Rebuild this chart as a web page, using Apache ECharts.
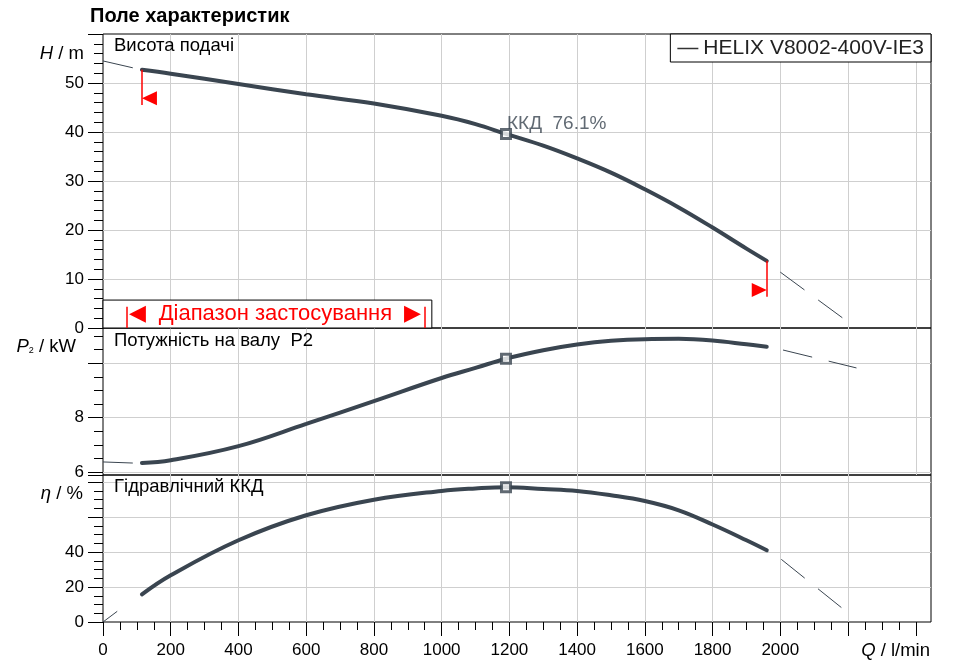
<!DOCTYPE html>
<html>
<head>
<meta charset="utf-8">
<script src="https://cdn.jsdelivr.net/npm/echarts@6/dist/echarts.min.js"></script>
<style>
  html, body { margin: 0; padding: 0; background: #fff; }
  #main { width: 969px; height: 665px; }
</style>
</head>
<body>
<div id="main"></div>
<script>
// flow points of the operating curve (l/min)
var qMain = [115, 200, 400, 600, 800, 1000, 1100, 1190, 1300, 1400, 1500, 1600, 1700, 1800, 1900, 1960];
var headMain = [52.7, 51.9, 49.8, 47.7, 45.8, 43.3, 41.6, 39.6, 37.2, 34.6, 31.7, 28.3, 24.6, 20.5, 16.2, 13.7];
var powerMain = [6.33, 6.43, 6.95, 7.77, 8.61, 9.46, 9.83, 10.17, 10.48, 10.69, 10.83, 10.89, 10.9, 10.84, 10.7, 10.61];
var effMain = [15.8, 26.7, 46.7, 61, 69.9, 74.9, 76.3, 77.0, 76.0, 74.9, 72.4, 69.1, 63.8, 55.7, 46.7, 41];

// thin pieces outside the allowed range
var qStartHead = [0, 88], headStart = [54.5, 53.1];
var qStartPower = [0, 88], powerStart = [6.37, 6.33];
var qStartEff = [0, 42], effStart = [0, 6.1];
var qEndHead = [2000, 2187], headEnd = [11.4, 1.9];
var qEndPower = [2008, 2225], powerEnd = [10.49, 9.83];
var qEndEff = [2003, 2182], effEnd = [35.8, 8.0];

// best efficiency point
var bepQ = 1190, bepHead = 39.6, bepPower = 10.17, bepEff = 77.0, bepText = '76.1';

// application range
var rangeQ = [70, 951];
var rangeBox = [971, 5.7];
var limitQ = [115, 1960];

var qTicks = [0, 200, 400, 600, 800, 1000, 1200, 1400, 1600, 1800, 2000, 2200, 2400];
var qMinorTicks = [];
for (var t = 50; t <= 2400; t += 50) { if (t % 200) qMinorTicks.push(t); }

var C = '#3a4550';
var FONT = 'Liberation Sans';
var GRIDC = '#cfcfcf';

function pairs(xs, ys) {
    return xs.map(function (x, i) { return [x, ys[i]]; });
}

var myChart = echarts.init(document.getElementById('main'));

var xPlain = function (grid, extra) {
    return Object.assign({
        type: 'value', gridIndex: grid, min: 0, max: 2445, interval: 200,
        axisLine: { show: false }, axisTick: { show: false }, axisLabel: { show: false },
        splitLine: { show: true, showMinLine: false, showMaxLine: false, lineStyle: { color: GRIDC, width: 1 } }
    }, extra || {});
};
var yMinor = function (grid, min, max, step) {
    return {
        type: 'value', gridIndex: grid, position: 'left', min: min, max: max, interval: step,
        axisLine: { show: false }, axisLabel: { show: false }, splitLine: { show: false },
        axisTick: { show: true, length: 9, lineStyle: { color: '#000', width: 1 } }
    };
};
var yMain = function (grid, min, max, step, shown, name, gap, padRight, minLine) {
    return {
        type: 'value', gridIndex: grid, position: 'left', min: min, max: max, interval: step,
        axisLine: { show: false },
        axisTick: { show: true, length: 15, lineStyle: { color: '#000', width: 1 } },
        axisLabel: {
            show: true, margin: 19, fontSize: 17, color: '#000', fontFamily: FONT,
            formatter: function (v) { return shown.indexOf(v) >= 0 ? String(v) : ''; }
        },
        splitLine: { show: true, showMinLine: minLine, showMaxLine: false, lineStyle: { color: GRIDC, width: 1 } },
        name: name, nameLocation: 'end', nameGap: gap, nameMoveOverlap: false,
        nameTextStyle: {
            fontSize: 18.5, color: '#000', fontFamily: FONT, align: 'right', verticalAlign: 'middle',
            padding: [0, padRight, 0, 0],
            rich: { i: { fontStyle: 'italic', fontSize: 18.5, fontFamily: FONT, color: '#000' },
                    s: { fontSize: 9, fontFamily: FONT, color: '#000', padding: [8, 0, 0, 0] } }
        }
    };
};

var thick = { width: 4, color: C, cap: 'round' };
var thin = { width: 1, color: C };
var dash = { width: 1, color: C, type: [30, 17] };
var squareStyle = { color: '#fff', borderColor: C, borderWidth: 3 };
var panelText = { fontSize: 18.5, fontWeight: 'normal', color: '#000', fontFamily: FONT };

option = {
    animation: false,
    textStyle: { fontFamily: FONT },
    title: [
        { text: 'Поле характеристик', left: 90, top: 6, padding: 0,
          textStyle: { fontSize: 20, fontWeight: 'bold', color: '#000', fontFamily: FONT } },
        { text: 'Висота подачі', left: 114, top: 36, padding: 0, textStyle: panelText },
        { text: 'Потужність на валу  P2', left: 114, top: 331, padding: 0, textStyle: panelText },
        { text: 'Гідравлічний ККД', left: 114, top: 477, padding: 0, textStyle: panelText }
    ],
    legend: {
        right: 38, top: 34, padding: [4, 7, 3, 7],
        borderColor: '#000', borderWidth: 1, backgroundColor: '#fff',
        icon: 'rect', itemWidth: 21, itemHeight: 1.5,
        itemStyle: { color: '#333' },
        textStyle: { fontSize: 21, color: '#222', fontFamily: FONT },
        data: ['HELIX V8002-400V-IE3'], selectedMode: false
    },
    grid: [
        { left: 103, width: 828, top: 34, height: 294, show: true, borderColor: '#000', borderWidth: 1,
          backgroundColor: 'transparent', containLabel: false, outerBoundsMode: 'none' },
        { left: 103, width: 828, top: 328, height: 147, show: true, borderColor: '#000', borderWidth: 1,
          backgroundColor: 'transparent', containLabel: false, outerBoundsMode: 'none' },
        { left: 103, width: 828, top: 328, height: 144, show: false, containLabel: false, outerBoundsMode: 'none' },
        { left: 103, width: 828, top: 475, height: 147, show: true, borderColor: '#000', borderWidth: 1,
          backgroundColor: 'transparent', containLabel: false, outerBoundsMode: 'none' }
    ],
    xAxis: [
        xPlain(0),
        xPlain(1),
        xPlain(2, { show: false }),
        xPlain(3, {
            axisTick: { show: true, length: 14, lineStyle: { color: '#000', width: 1 }, customValues: qTicks },
            axisLabel: {
                show: true, margin: 20, fontSize: 17, color: '#000', fontFamily: FONT,
                formatter: function (v) { return (v <= 2000 && v % 200 === 0) ? String(v) : ''; }
            },
            name: '{i|Q} / l/min', nameLocation: 'end', nameGap: 0, nameMoveOverlap: false,
            nameTextStyle: {
                fontSize: 18.5, color: '#000', fontFamily: FONT, align: 'right', verticalAlign: 'top',
                padding: [19, 1, 0, 0],
                rich: { i: { fontStyle: 'italic', fontSize: 18.5, fontFamily: FONT, color: '#000' } }
            }
        }),
        {
            type: 'value', gridIndex: 3, position: 'bottom', min: 0, max: 2445, interval: 50,
            axisLine: { show: false }, axisLabel: { show: false }, splitLine: { show: false },
            axisTick: { show: true, length: 8, lineStyle: { color: '#000', width: 1 }, customValues: qMinorTicks }
        }
    ],
    yAxis: [
        yMain(0, 0, 60, 10, [0, 10, 20, 30, 40, 50], '{i|H} / m', -20, 19, false),
        yMinor(0, 0, 60, 2),
        { type: 'value', gridIndex: 1, min: 0, max: 1, show: false },
        yMain(2, 6, 11.3, 2, [6, 8], '{i|P}{s|2} / kW', -19, 27, true),
        yMinor(2, 6, 11.3, 0.5),
        yMain(3, 0, 84, 20, [0, 20, 40], '{i|η} / %', -19, 20, false),
        yMinor(3, 0, 84, 5)
    ],
    series: [
        {
            name: 'HELIX V8002-400V-IE3', type: 'line', xAxisIndex: 0, yAxisIndex: 0,
            smooth: 0.4, symbol: 'none', lineStyle: thick, itemStyle: { color: C },
            data: pairs(qMain, headMain), z: 3,
            markArea: {
                silent: true,
                itemStyle: { color: '#fff', borderColor: '#000', borderWidth: 1 },
                label: { show: true, position: 'inside', offset: [8, 0], color: '#ff0000',
                         fontSize: 22, fontFamily: FONT,
                         formatter: '◀  Діапазон застосування  ▶' },
                data: [[{ xAxis: 0, yAxis: 0 }, { xAxis: rangeBox[0], yAxis: rangeBox[1] }]]
            },
            markLine: {
                silent: true, symbol: ['none', 'none'], label: { show: false },
                lineStyle: { color: '#ff0000', width: 1.5, type: 'solid' },
                data: [
                    [{ coord: [rangeQ[0], 0] }, { coord: [rangeQ[0], 4.35] }],
                    [{ coord: [rangeQ[1], 0] }, { coord: [rangeQ[1], 4.35] }],
                    [{ coord: [limitQ[0], headMain[0]] }, { coord: [limitQ[0], 45.5] }],
                    [{ coord: [limitQ[1], headMain[headMain.length - 1]] }, { coord: [limitQ[1], 6.4] }]
                ]
            },
            markPoint: {
                silent: true, label: { show: false }, itemStyle: { color: '#ff0000' },
                data: [
                    { coord: [limitQ[0], 46.9], symbol: 'triangle', symbolSize: [14, 15],
                      symbolRotate: 90, symbolOffset: [7.5, 0] },
                    { coord: [limitQ[1], 7.75], symbol: 'triangle', symbolSize: [14, 15],
                      symbolRotate: -90, symbolOffset: [-7.5, 0] }
                ]
            }
        },
        { type: 'line', xAxisIndex: 0, yAxisIndex: 0, symbol: 'none', lineStyle: thin, data: pairs(qStartHead, headStart) },
        { type: 'line', xAxisIndex: 0, yAxisIndex: 0, symbol: 'none', lineStyle: dash, data: pairs(qEndHead, headEnd) },
        {
            type: 'scatter', xAxisIndex: 0, yAxisIndex: 0, symbol: 'rect', symbolSize: 9, z: 5,
            itemStyle: squareStyle, data: [[bepQ, bepHead]],
            label: { show: true, position: [7, -14], formatter: 'ККД  ' + bepText + '%',
                     fontSize: 19, color: C, fontFamily: FONT }
        },

        { type: 'line', xAxisIndex: 2, yAxisIndex: 3, smooth: 0.4, symbol: 'none', lineStyle: thick, data: pairs(qMain, powerMain), z: 3 },
        { type: 'line', xAxisIndex: 2, yAxisIndex: 3, symbol: 'none', lineStyle: thin, data: pairs(qStartPower, powerStart) },
        { type: 'line', xAxisIndex: 2, yAxisIndex: 3, symbol: 'none', lineStyle: dash, data: pairs(qEndPower, powerEnd) },
        { type: 'scatter', xAxisIndex: 2, yAxisIndex: 3, symbol: 'rect', symbolSize: 9, z: 5,
          itemStyle: squareStyle, data: [[bepQ, bepPower]] },

        { type: 'line', xAxisIndex: 3, yAxisIndex: 5, smooth: 0.4, symbol: 'none', lineStyle: thick, data: pairs(qMain, effMain), z: 3 },
        { type: 'line', xAxisIndex: 3, yAxisIndex: 5, symbol: 'none', lineStyle: thin, data: pairs(qStartEff, effStart) },
        { type: 'line', xAxisIndex: 3, yAxisIndex: 5, symbol: 'none', lineStyle: dash, data: pairs(qEndEff, effEnd) },
        { type: 'scatter', xAxisIndex: 3, yAxisIndex: 5, symbol: 'rect', symbolSize: 9, z: 5,
          itemStyle: squareStyle, data: [[bepQ, bepEff]] }
    ]
};
myChart.setOption(option);
</script>
</body>
</html>
